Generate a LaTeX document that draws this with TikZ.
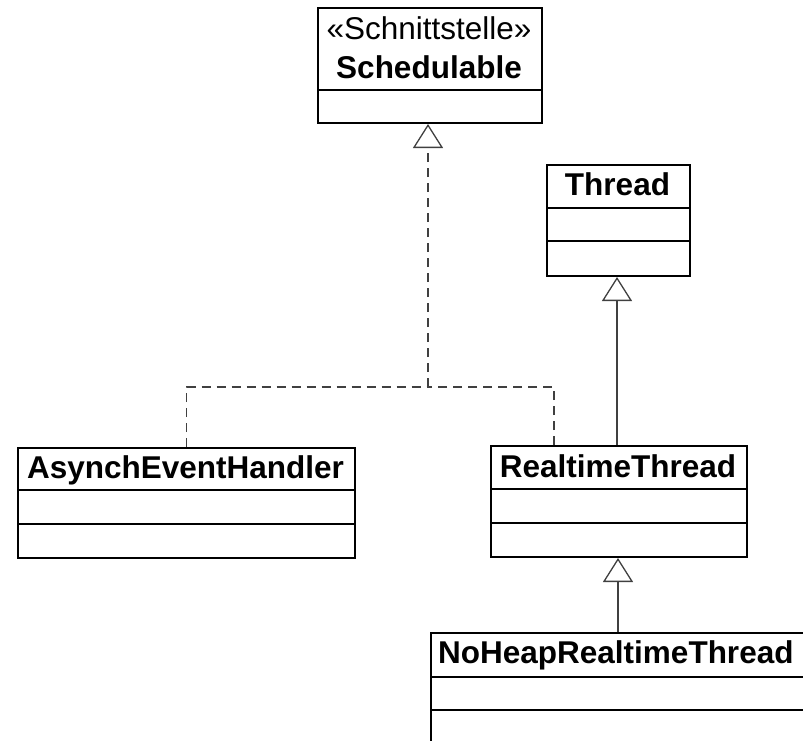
\documentclass[tikz,border=0pt]{standalone}
\usepackage{fontspec}
\setmainfont{Liberation Sans}
\usetikzlibrary{arrows.meta}
\begin{document}
\begin{tikzpicture}[x=1pt,y=-1pt,
  box/.style={draw=black, line width=2pt, rectangle, inner sep=0pt, anchor=north west},
  divider/.style={draw=black, line width=2pt},
  cname/.style={font=\fontsize{31.5}{36}\selectfont\bfseries, inner sep=0pt, anchor=base},
  stereo/.style={font=\fontsize{31.5}{36}\selectfont, inner sep=0pt, anchor=base},
  conn/.style={draw=black!75, line width=1.3pt},
  gen/.style={-{Triangle[open, length=24pt, width=30pt, line width=1.3pt]}},
  real/.style={dash pattern=on 9pt off 6pt}]
\useasboundingbox (0,0) rectangle (803,740);
\clip (0,0) rectangle (803,740);
% Schedulable
\node[box, minimum width=224pt, minimum height=115pt] (sched) at (317,7) {};
\draw[divider] (317,90) -- (541,90);
\node[stereo] (schedst) at (429,39.5) {«Schnittstelle»};
\node[cname] (schedname) at (429,78) {Schedulable};
% Thread
\node[box, minimum width=143pt, minimum height=111pt] (thread) at (546,164) {};
\draw[divider] (546,208) -- (689,208);
\draw[divider] (546,241) -- (689,241);
\node[cname] (threadname) at (617.5,195) {Thread};
% AsynchEventHandler
\node[box, minimum width=337pt, minimum height=110pt] (aeh) at (17,447) {};
\draw[divider] (17,490) -- (354,490);
\draw[divider] (17,524) -- (354,524);
\node[cname] (aehname) at (185.5,478) {AsynchEventHandler};
% RealtimeThread
\node[box, minimum width=256pt, minimum height=111pt] (rt) at (490,445) {};
\draw[divider] (490,489) -- (746,489);
\draw[divider] (490,523) -- (746,523);
\node[cname] (rtname) at (618,477) {RealtimeThread};
% NoHeapRealtimeThread
\node[box, minimum width=380pt, minimum height=150pt] (nh) at (430,632) {};
\draw[divider] (430,677) -- (810,677);
\draw[divider] (430,710) -- (810,710);
\node[cname, anchor=base west] (nhname) at (438,663) {NoHeapRealtimeThread};
% connectors
\coordinate (join) at (428,387);
\coordinate (rtd) at (554,445);
\draw[conn, real] (aeh.north) |- (join);
\draw[conn, real] (rtd) |- (join);
\draw[conn, real, gen] (join) -- (join |- sched.south);
\draw[conn, gen] (rt.north -| 617,0) -- (thread.south -| 617,0);
\draw[conn, gen] (nh.north -| 618,0) -- (rt.south -| 618,0);
\end{tikzpicture}
\end{document}
